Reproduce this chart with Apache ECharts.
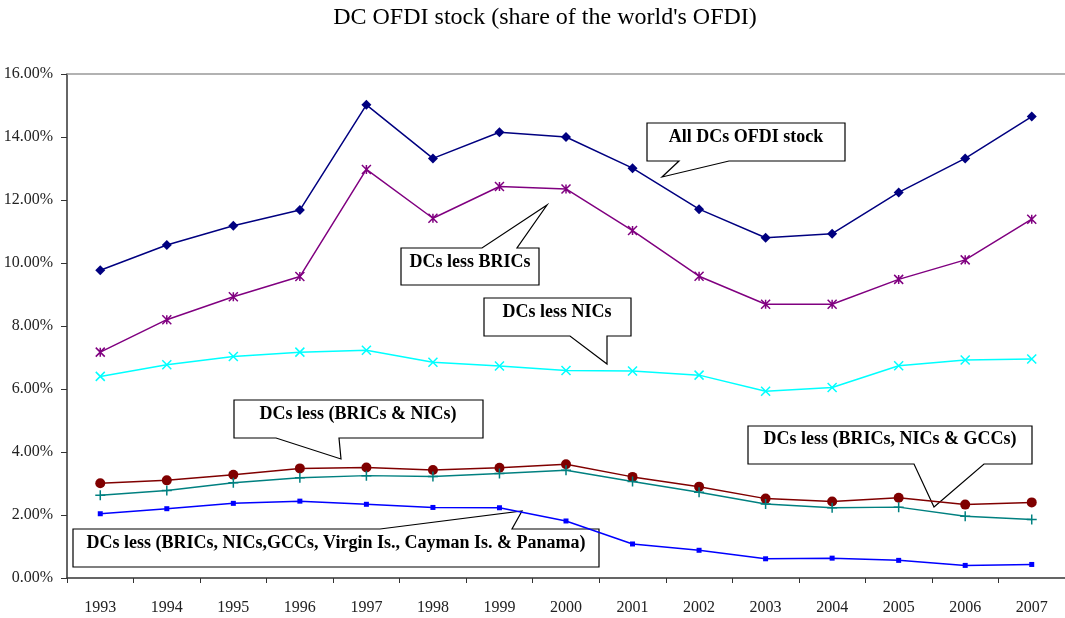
<!DOCTYPE html>
<html>
<head>
<meta charset="utf-8">
<title>DC OFDI stock</title>
<script src="https://cdn.jsdelivr.net/npm/echarts@6/dist/echarts.min.js"></script>
<style>
  html, body { margin: 0; padding: 0; background: #fff; }
  #chart { width: 1065px; height: 618px; }
</style>
</head>
<body>
<div id="chart"></div>
<script>
// categories
const years = ['1993', '1994', '1995', '1996', '1997', '1998', '1999', '2000',
  '2001', '2002', '2003', '2004', '2005', '2006', '2007'];

// series values (% of world OFDI)
const allDCs = [9.77, 10.57, 11.18, 11.68, 15.02, 13.32, 14.15, 14.0, 13.01, 11.71, 10.8, 10.93, 12.24, 13.32, 14.65];
const lessBRICs = [7.17, 8.2, 8.93, 9.57, 12.97, 11.42, 12.43, 12.35, 11.03, 9.58, 8.69, 8.69, 9.48, 10.1, 11.39];
const lessNICs = [6.4, 6.77, 7.03, 7.17, 7.23, 6.85, 6.73, 6.59, 6.57, 6.44, 5.93, 6.05, 6.74, 6.92, 6.95];
const lessBricsNics = [3.01, 3.1, 3.28, 3.48, 3.51, 3.43, 3.5, 3.61, 3.21, 2.9, 2.52, 2.43, 2.55, 2.33, 2.4];
const lessBricsNicsGccs = [2.63, 2.78, 3.02, 3.18, 3.25, 3.22, 3.32, 3.42, 3.06, 2.72, 2.35, 2.23, 2.25, 1.96, 1.86];
const lessAll = [2.04, 2.2, 2.37, 2.44, 2.34, 2.24, 2.23, 1.81, 1.08, 0.88, 0.61, 0.63, 0.56, 0.4, 0.43];

// y ticks
const yMin = 0, yMax = 16, yStep = 2;

const serif = '"Liberation Serif", "DejaVu Serif", serif';

const chart = echarts.init(document.getElementById('chart'));

// callout: box with a pointer tail, drawn as one outline
const callout = (pts, text, tx, ty) => ({
  type: 'group',
  z: 100,
  children: [
    {
      type: 'polygon',
      shape: { points: pts },
      style: { fill: '#fff', stroke: '#000', lineWidth: 1.2 }
    },
    {
      type: 'text',
      x: tx,
      y: ty,
      style: {
        text: text,
        font: 'bold 18px ' + serif,
        fill: '#000',
        textAlign: 'center',
        textVerticalAlign: 'middle'
      }
    }
  ]
});

const line = (name, data, color, symbol, size, extra) => Object.assign({
  name: name,
  type: 'line',
  data: data,
  symbol: symbol,
  symbolSize: size,
  showSymbol: true,
  lineStyle: { color: color, width: 1.5 },
  itemStyle: { color: color },
  emphasis: { disabled: true }
}, extra || {});

const crossStyle = color => ({
  itemStyle: { color: 'none', borderColor: color, borderWidth: 1.5 }
});

chart.setOption({
  animation: false,
  title: {
    text: "DC OFDI stock (share of the world's OFDI)",
    left: 545,
    textAlign: 'center',
    top: 6,
    padding: 0,
    textStyle: { fontFamily: serif, fontWeight: 'normal', fontSize: 24, color: '#000' }
  },
  grid: { left: 67, top: 74, width: 999, bottom: 40, containLabel: false },
  xAxis: [
    {
      type: 'category',
      data: years,
      boundaryGap: true,
      axisLine: { lineStyle: { color: '#333', width: 1.5 } },
      axisTick: { show: true, length: 5, lineStyle: { color: '#333' } },
      axisLabel: { fontFamily: serif, fontSize: 16, color: '#222', margin: 22 }
    },
    {
      type: 'category',
      data: years,
      position: 'top',
      axisLine: { lineStyle: { color: '#999', width: 1.5 } },
      axisTick: { show: false },
      axisLabel: { show: false }
    }
  ],
  yAxis: {
    type: 'value',
    min: yMin,
    max: yMax,
    interval: yStep,
    axisLine: { show: true, lineStyle: { color: '#333', width: 1.5 } },
    axisTick: { show: true, length: 6, lineStyle: { color: '#333' } },
    splitLine: { show: false },
    axisLabel: {
      fontFamily: serif,
      fontSize: 16,
      color: '#222',
      margin: 14,
      formatter: v => v.toFixed(2) + '%'
    }
  },
  series: [
    line('All DCs OFDI stock', allDCs, '#000080', 'diamond', 10),
    line('DCs less BRICs', lessBRICs, '#800080', 'path://M0,0L10,10M10,0L0,10M5,0L5,10', 9, crossStyle('#800080')),
    line('DCs less NICs', lessNICs, '#00FFFF', 'path://M0,0L10,10M10,0L0,10', 9, crossStyle('#00FFFF')),
    line('DCs less (BRICs & NICs)', lessBricsNics, '#800000', 'circle', 10),
    line('DCs less (BRICs, NICs & GCCs)', lessBricsNicsGccs, '#008080', 'path://M5,0L5,10M0,5L10,5', 10, crossStyle('#008080')),
    line('DCs less (BRICs, NICs,GCCs, Virgin Is., Cayman Is. & Panama)', lessAll, '#0000FF', 'rect', 5)
  ],
  graphic: [
    callout([[647, 123], [845, 123], [845, 161], [729, 161], [662, 177], [679, 161], [647, 161]],
      'All DCs OFDI stock', 746, 137),
    callout([[401, 248], [482, 248], [547, 205], [517, 248], [539, 248], [539, 285], [401, 285]],
      'DCs less BRICs', 470, 262),
    callout([[484, 298], [631, 298], [631, 336], [607, 336], [607, 364], [570, 336], [484, 336]],
      'DCs less NICs', 557, 312),
    callout([[234, 400], [483, 400], [483, 438], [339, 438], [341, 459], [276, 438], [234, 438]],
      'DCs less (BRICs & NICs)', 358, 414),
    callout([[748, 426], [1032, 426], [1032, 464], [984, 464], [934, 507], [914, 464], [748, 464]],
      'DCs less (BRICs, NICs & GCCs)', 890, 439),
    callout([[73, 529], [380, 529], [522, 511], [512, 529], [599, 529], [599, 567], [73, 567]],
      'DCs less (BRICs, NICs,GCCs, Virgin Is., Cayman Is. & Panama)', 336, 543)
  ]
});
</script>
</body>
</html>
